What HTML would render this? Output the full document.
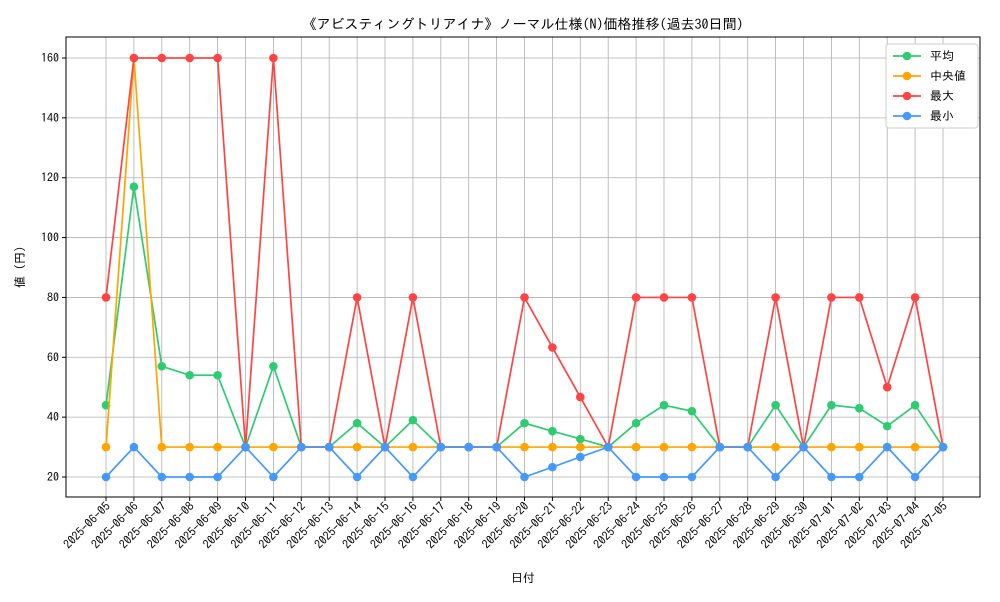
<!DOCTYPE html>
<html><head><meta charset="utf-8"><style>
body{margin:0;background:#fff;font-family:"IPAGothic","Noto Sans CJK JP",sans-serif}
text{font-family:"IPAGothic","Noto Sans CJK JP",sans-serif}
</style></head><body>
<svg id="c" width="1000" height="600" xmlns="http://www.w3.org/2000/svg"></svg>
<script>
const dates=["2025-06-05","2025-06-06","2025-06-07","2025-06-08","2025-06-09","2025-06-10","2025-06-11","2025-06-12","2025-06-13","2025-06-14","2025-06-15","2025-06-16","2025-06-17","2025-06-18","2025-06-19","2025-06-20","2025-06-21","2025-06-22","2025-06-23","2025-06-24","2025-06-25","2025-06-26","2025-06-27","2025-06-28","2025-06-29","2025-06-30","2025-07-01","2025-07-02","2025-07-03","2025-07-04","2025-07-05"];
const meanVals=[44,117,57,54,54,30,57,30,30,38,30,39,30,30,30,38,35.3,32.7,30,38,44,42,30,30,44,30,44,43,37,44,30];
const medianVals=[30,160,30,30,30,30,30,30,30,30,30,30,30,30,30,30,30,30,30,30,30,30,30,30,30,30,30,30,30,30,30];
const maxVals=[80,160,160,160,160,30,160,30,30,80,30,80,30,30,30,80,63.3,46.7,30,80,80,80,30,30,80,30,80,80,50,80,30];
const minVals=[20,30,20,20,20,30,20,30,30,20,30,20,30,30,30,20,23.3,26.7,30,20,20,20,30,30,20,30,20,20,30,20,30];
const yTicks=[20,40,60,80,100,120,140,160];
const series=[["平均",meanVals,"#2ecc71","mean"],["中央値",medianVals,"#ffa500","median"],["最大",maxVals,"#ff4444","max"],["最小",minVals,"#4499ff","min"]];
const L=66,R=980,T=37,B=497;
const X=i=>106+i*(943-106)/(dates.length-1);
const Y=v=>477-(v-20)*(477-58)/140;
const svg=document.getElementById('c');const NS="http://www.w3.org/2000/svg";
function mk(t,a,p,txt){const e=document.createElementNS(NS,t);for(const k in a)e.setAttribute(k,a[k]);if(txt!=null)e.textContent=txt;(p||svg).appendChild(e);return e;}
dates.forEach((d,i)=>{const g=mk('line',{x1:X(i),x2:X(i),y1:T,y2:B,stroke:'#b0b0b0','stroke-width':0.8});

mk('line',{x1:X(i),x2:X(i),y1:B,y2:B+4,stroke:'#000'});
const t=mk('text',{x:X(i)+5,y:B+10,'font-size':12,'text-anchor':'end',transform:`rotate(-45 ${X(i)+5} ${B+10})`},null,d);
});
yTicks.forEach(v=>{const g=mk('line',{x1:L,x2:R,y1:Y(v),y2:Y(v),stroke:'#b0b0b0','stroke-width':0.8});

mk('line',{x1:L-4,x2:L,y1:Y(v),y2:Y(v),stroke:'#000'});
const t=mk('text',{x:L-7,y:Y(v)+4,'font-size':12,'text-anchor':'end'},null,v);
});
const fr=mk('rect',{x:L,y:T,width:R-L,height:B-T,fill:'none',stroke:'#000','stroke-width':1});

series.forEach(([n,vals,c,k])=>{const g=mk('g',{});

mk('polyline',{points:vals.map((v,i)=>X(i)+','+Y(v)).join(' '),fill:'none',stroke:c,'stroke-width':1.7},g);
vals.forEach((v,i)=>{const p=mk('circle',{cx:X(i),cy:Y(v),r:4.3,fill:c},g);
});});
const tt=mk('text',{x:523,y:29,'font-size':14,'text-anchor':'middle'},null,"《アビスティングトリアイナ》ノーマル仕様(N)価格推移(過去30日間)");

const xl=mk('text',{x:523,y:582,'font-size':12,'text-anchor':'middle'},null,"日付");

const yl=mk('text',{x:24,y:267,'font-size':12,'text-anchor':'middle',transform:'rotate(-90 24 267)'},null,"値 (円)");

const lg=mk('g',{});
mk('rect',{x:886,y:44,width:92,height:84,fill:'#fff',stroke:'#ccc',rx:3},lg);
series.forEach(([n,vals,c,k],j)=>{const y=56+j*20;const e=mk('g',{},lg);

mk('line',{x1:893,x2:921,y1:y,y2:y,stroke:c,'stroke-width':1.7},e);
mk('circle',{cx:907,cy:y,r:4.3,fill:c},e);
mk('text',{x:930,y:y+4,'font-size':12},e,(k==='median'?' ':'')+n);});
</script></body></html>
